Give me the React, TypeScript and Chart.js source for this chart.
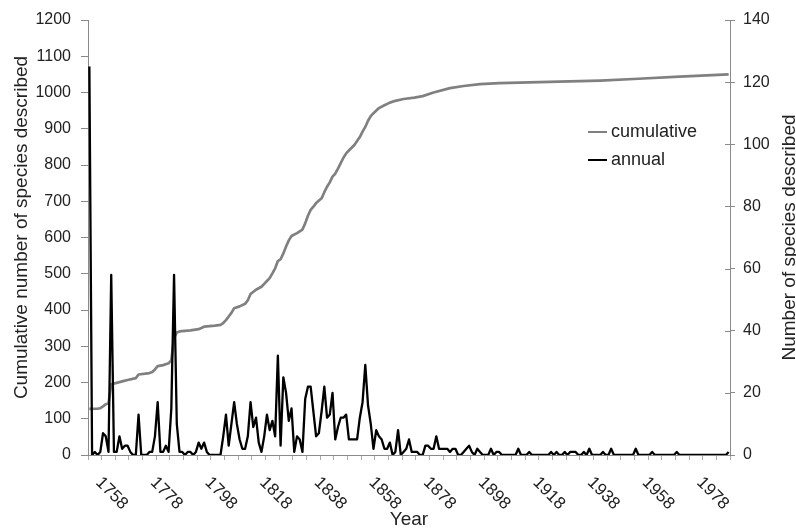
import React, { useEffect, useRef } from 'react';
import { Chart, registerables } from 'chart.js';

Chart.register(...registerables);

// ---------- data ----------
const FIRST_YEAR = 1758;

// species described per year, 1758 .. 1992
const annualCounts = [
  125, 0, 1, 0, 1, 7, 6, 1, 58, 1,
  1, 6, 2, 3, 3, 1, 0, 0, 13, 0,
  0, 0, 1, 1, 6, 17, 1, 1, 3, 1,
  15, 58, 10, 1, 1, 0, 1, 1, 0, 1,
  4, 2, 4, 1, 0, 0, 0, 0, 0, 6,
  13, 3, 10, 17, 10, 5, 2, 2, 6, 17,
  9, 12, 4, 1, 6, 13, 8, 11, 6, 32,
  3, 25, 20, 11, 15, 1, 6, 5, 1, 18,
  22, 22, 14, 6, 7, 14, 22, 12, 13, 20,
  5, 9, 12, 12, 13, 5, 5, 5, 5, 12,
  17, 29, 16, 10, 2, 8, 6, 5, 2, 2,
  4, 0, 1, 8, 0, 1, 2, 5, 1, 1,
  1, 0, 0, 3, 3, 2, 2, 6, 2, 2,
  2, 2, 1, 2, 2, 0, 0, 1, 2, 3,
  1, 0, 2, 1, 0, 0, 0, 2, 0, 1,
  1, 0, 0, 0, 0, 0, 0, 2, 0, 0,
  0, 1, 0, 0, 0, 0, 0, 0, 0, 1,
  0, 1, 0, 0, 1, 0, 1, 1, 1, 0,
  0, 1, 0, 2, 0, 0, 0, 0, 1, 0,
  0, 2, 0, 0, 0, 0, 0, 0, 0, 0,
  2, 0, 0, 0, 0, 0, 1, 0, 0, 0,
  0, 0, 0, 0, 0, 1, 0, 0, 0, 0,
  0, 0, 0, 0, 0, 0, 0, 0, 0, 0,
  0, 0, 0, 0, 1,
];
const years = annualCounts.map((_, i) => FIRST_YEAR + i);

// cumulative number of species, read at these years
const cumulativeYears = [
  1758, 1761, 1762, 1763, 1764, 1765, 1766, 1768, 1770, 1772,
  1775, 1776, 1780, 1781, 1782, 1783, 1785, 1787, 1788, 1789,
  1790, 1791, 1795, 1798, 1800, 1804, 1806, 1807, 1808, 1809,
  1810, 1811, 1813, 1815, 1816, 1817, 1819, 1821, 1822, 1823,
  1824, 1825, 1826, 1827, 1828, 1829, 1830, 1831, 1832, 1834,
  1836, 1837, 1838, 1839, 1840, 1841, 1843, 1844, 1845, 1846,
  1847, 1848, 1849, 1850, 1851, 1852, 1853, 1855, 1857, 1858,
  1859, 1860, 1861, 1862, 1864, 1866, 1868, 1870, 1873, 1877,
  1880, 1884, 1890, 1895, 1901, 1908, 1919, 1930, 1945, 1959,
  1974, 1992,
];
const cumulativeValues = [
  127, 128, 129, 134, 140, 142, 195, 199, 203, 207,
  212, 222, 226, 229, 236, 245, 248, 253, 262, 322,
  338, 341, 344, 347, 354, 357, 359, 364, 372, 382,
  392, 405, 410, 417, 427, 444, 456, 464, 472, 480,
  488, 501, 515, 535, 540, 556, 575, 592, 604, 612,
  622, 639, 660, 676, 685, 695, 708, 725, 740, 752,
  768, 776, 790, 805, 820, 832, 840, 855, 877, 892,
  905, 922, 935, 943, 957, 965, 972, 977, 982, 986,
  990, 1000, 1012, 1018, 1023, 1026, 1028, 1030, 1033, 1038,
  1044, 1050,
];

const yearTickLabels = [1758, 1778, 1798, 1818, 1838, 1858, 1878, 1898, 1918, 1938, 1958, 1978];

// ---------- styles ----------
const FONT = '"Liberation Sans", Arial, Helvetica, sans-serif';
const AXIS = '#8a8a8a';
const TEXT = '#222222';
const GRAY_LINE = '#808080';

const overlayPlugin = {
  id: 'overlay',
  afterDraw(chart: any) {
    const { ctx, chartArea } = chart;
    const xs = chart.scales.x;
    const yr = chart.scales.y1;
    const midY = (chartArea.top + chartArea.bottom) / 2;
    ctx.save();
    // inward half of right-axis tick marks
    ctx.strokeStyle = AXIS;
    ctx.lineWidth = 1;
    yr.ticks.forEach((t: any) => {
      const py = Math.round(yr.getPixelForValue(t.value)) + 0.5;
      ctx.beginPath();
      ctx.moveTo(chartArea.right - 5, py);
      ctx.lineTo(chartArea.right, py);
      ctx.stroke();
    });
    // rotated year labels
    ctx.fillStyle = TEXT;
    ctx.font = `17px ${FONT}`;
    ctx.textAlign = 'left';
    ctx.textBaseline = 'top';
    yearTickLabels.forEach((y) => {
      const px = xs.getPixelForValue(y);
      ctx.save();
      ctx.translate(px + 15, chartArea.bottom + 19);
      ctx.rotate(Math.PI / 4);
      ctx.fillText(String(y), 0, 0);
      ctx.restore();
    });
    // axis titles (both read bottom to top)
    ctx.font = `19px ${FONT}`;
    ctx.textAlign = 'center';
    ctx.textBaseline = 'alphabetic';
    ctx.save();
    ctx.translate(27, midY - 10);
    ctx.rotate(-Math.PI / 2);
    ctx.fillText('Cumulative number of species described', 0, 0);
    ctx.restore();
    ctx.save();
    ctx.translate(795, midY);
    ctx.rotate(-Math.PI / 2);
    ctx.fillText('Number of species described', 0, 0);
    ctx.restore();
    // legend
    ctx.font = `18px ${FONT}`;
    const order = [1, 0];
    ctx.textAlign = 'left';
    ctx.textBaseline = 'middle';
    order.forEach((di, k) => {
      const ds = chart.data.datasets[di];
      const ly = 132 + k * 28;
      ctx.strokeStyle = ds.borderColor;
      ctx.lineWidth = 2;
      ctx.beginPath();
      ctx.moveTo(588, ly);
      ctx.lineTo(607, ly);
      ctx.stroke();
      ctx.fillStyle = TEXT;
      ctx.fillText(ds.label, 611, ly);
    });
    ctx.restore();
  },
};

export default function App() {
  const canvasRef = useRef<HTMLCanvasElement | null>(null);

  useEffect(() => {
    if (!canvasRef.current) return;
    Chart.defaults.font.family = FONT;
    const chart = new Chart(canvasRef.current, {
      type: 'line',
      data: {
        datasets: [
          {
            label: 'annual',
            data: years.map((y, i) => ({ x: y, y: annualCounts[i] })),
            yAxisID: 'y1',
            borderColor: '#000000',
            backgroundColor: '#000000',
            borderWidth: 2.3,
            pointRadius: 0,
            tension: 0,
            borderJoinStyle: 'round',
            order: 0,
          },
          {
            label: 'cumulative',
            data: cumulativeYears.map((y, i) => ({ x: y, y: cumulativeValues[i] })),
            yAxisID: 'y',
            borderColor: GRAY_LINE,
            backgroundColor: GRAY_LINE,
            borderWidth: 2.7,
            pointRadius: 0,
            tension: 0,
            borderJoinStyle: 'round',
            order: 1,
          },
        ],
      },
      plugins: [overlayPlugin],
      options: {
        responsive: false,
        animation: false,
        layout: { padding: { top: 20, left: 0, right: 0, bottom: 0 } },
        plugins: { legend: { display: false }, tooltip: { enabled: false } },
        scales: {
          x: {
            type: 'linear',
            min: 1757.5,
            max: 1992.5,
            afterBuildTicks: (scale: any) => {
              const t = [];
              for (let v = 1757.5; v <= 1992.5; v += 5) t.push({ value: v });
              scale.ticks = t;
            },
            afterFit: (scale: any) => {
              scale.height = 76;
            },
            ticks: { display: false },
            grid: { drawOnChartArea: false, drawTicks: true, tickLength: 5, color: '#aaaaaa' },
            border: { display: true, color: AXIS, dash: [2, 3], width: 1 },
            title: {
              display: true,
              text: 'Year',
              color: TEXT,
              font: { size: 19, family: FONT },
              padding: { top: 0, bottom: 0 },
            },
          },
          y: {
            position: 'left',
            min: 0,
            max: 1200,
            afterFit: (scale: any) => {
              scale.width = 88;
            },
            ticks: {
              stepSize: 100,
              padding: 10,
              color: TEXT,
              font: { size: 16, family: FONT },
              callback: (v: any) => String(v),
            },
            grid: { drawOnChartArea: false, tickLength: 7, color: AXIS },
            border: { color: AXIS, width: 1 },
          },
          y1: {
            position: 'right',
            min: 0,
            max: 140,
            afterFit: (scale: any) => {
              scale.width = 66;
            },
            ticks: {
              stepSize: 20,
              padding: 8,
              color: TEXT,
              font: { size: 16, family: FONT },
              callback: (v: any) => String(v),
            },
            grid: { drawOnChartArea: false, tickLength: 5, color: AXIS },
            border: { color: AXIS, width: 1 },
          },
        },
      },
    } as any);
    return () => chart.destroy();
  }, []);

  return (
    <div style={{ position: 'fixed', left: 0, top: 0, width: 796, height: 531, background: '#ffffff' }}>
      <canvas ref={canvasRef} width={796} height={531} style={{ display: 'block' }} />
    </div>
  );
}
